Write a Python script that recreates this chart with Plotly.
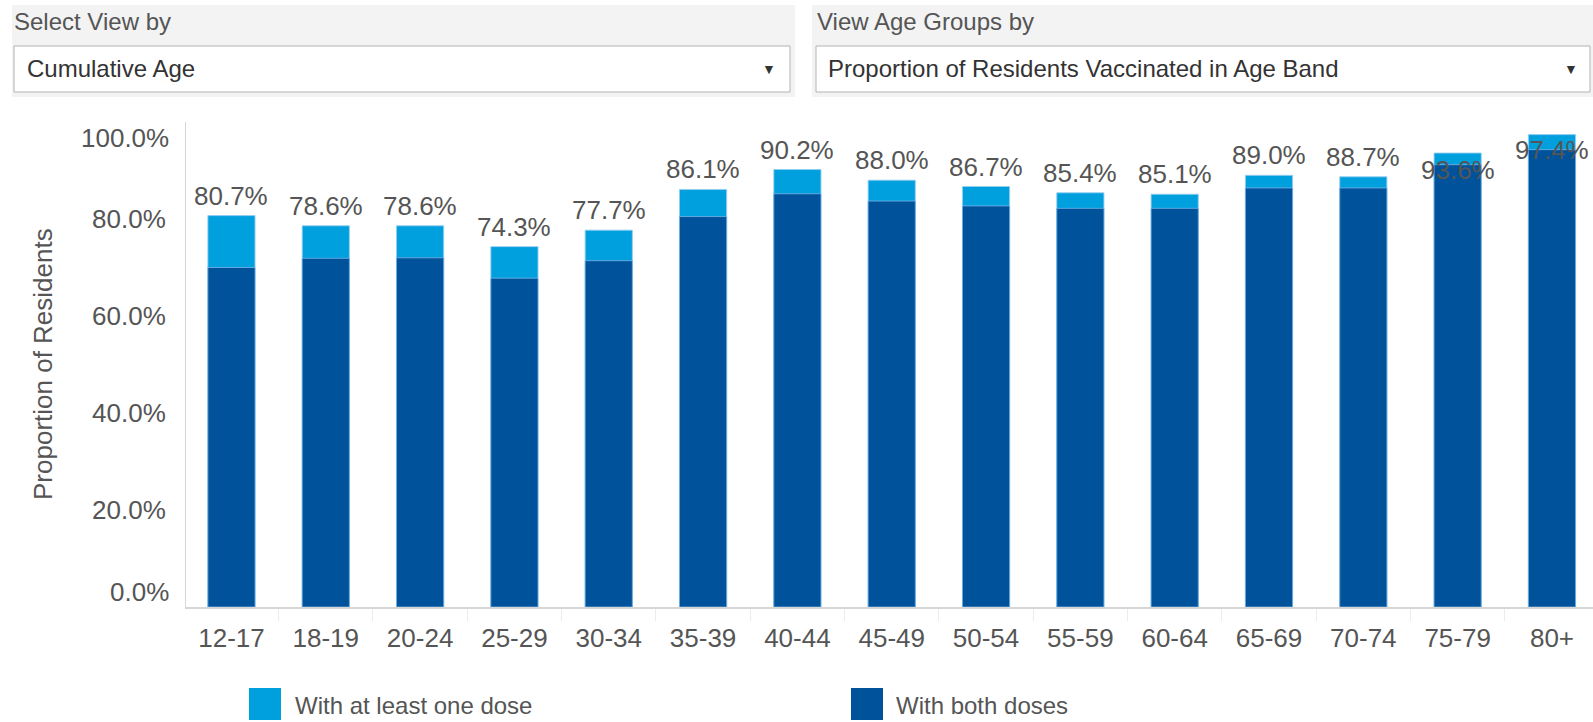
import plotly.graph_objects as go

# ---- data ----
age_bands = ["12-17", "18-19", "20-24", "25-29", "30-34", "35-39", "40-44", "45-49",
             "50-54", "55-59", "60-64", "65-69", "70-74", "75-79", "80+"]
at_least_one_dose = [80.7, 78.6, 78.6, 74.3, 77.7, 86.1, 90.2, 88.0,
                     86.7, 85.4, 85.1, 89.0, 88.7, 93.6, 97.4]
both_doses = [70.0, 71.9, 72.0, 67.8, 71.4, 80.5, 85.2, 83.7,
              82.7, 82.2, 82.2, 86.4, 86.4, 91.2, 94.3]
y_tick_vals = [0, 20, 40, 60, 80, 100]
y_tick_text = ["0.0%", "20.0%", "40.0%", "60.0%", "80.0%", "100.0%"]
legend_names = ["With at least one dose", "With both doses"]
control_titles = ["Select View by", "View Age Groups by"]
control_values = ["Cumulative Age", "Proportion of Residents Vaccinated in Age Band"]

# ---- style ----
LIGHT = "#009FDE"
DARK = "#00539B"
TXT = "#555555"
FONT = "Arial, Liberation Sans, sans-serif"
W, H = 1593, 722
ML, MR, MT, MB = 186, 0, 122, 115
PW, PH = W - ML - MR, H - MT - MB
# pixel shifts of the value labels (label centre relative to bar top)
label_shift = [20] * 13 + [-17, -15]


def px(x):
    return (x - ML) / PW


def py(y):
    return (H - MB - y) / PH


fig = go.Figure()
fig.add_trace(go.Bar(x=age_bands, y=at_least_one_dose, name=legend_names[0],
                     marker=dict(color=LIGHT, line=dict(color="rgba(150,205,240,0.9)", width=1)),
                     width=0.5, showlegend=False, hoverinfo="x+y"))
fig.add_trace(go.Bar(x=age_bands, y=both_doses, name=legend_names[1],
                     marker=dict(color=DARK, line=dict(color="rgba(120,180,230,0.8)", width=1)),
                     width=0.5, showlegend=False, hoverinfo="x+y"))

annotations = []
# value labels
for cat, v, s in zip(age_bands, at_least_one_dose, label_shift):
    annotations.append(dict(x=cat, y=v, xref="x", yref="y", text=f"{v:.1f}%",
                            showarrow=False, yshift=s, yanchor="middle",
                            font=dict(family=FONT, size=26, color=TXT)))
# edge y tick labels (shifted inward like the original)
annotations.append(dict(x=0, xref="paper", y=y_tick_vals[0], yref="y", text=y_tick_text[0],
                        showarrow=False, xanchor="right", xshift=-15, yshift=15,
                        font=dict(family=FONT, size=26, color=TXT)))
annotations.append(dict(x=0, xref="paper", y=y_tick_vals[-1], yref="y", text=y_tick_text[-1],
                        showarrow=False, xanchor="right", xshift=-15, yshift=-16,
                        font=dict(family=FONT, size=26, color=TXT)))
# y title
annotations.append(dict(x=px(43), xref="paper", y=py(364), yref="paper",
                        text="Proportion of Residents", textangle=-90, showarrow=False,
                        xanchor="center", yanchor="middle",
                        font=dict(family=FONT, size=26, color=TXT)))

shapes = []
# legend
for (x0, tx), name, col in zip([(249, 293), (851, 894)], legend_names, [LIGHT, DARK]):
    shapes.append(dict(type="rect", xref="paper", yref="paper",
                       x0=px(x0), x1=px(x0 + 32), y0=py(688), y1=py(720),
                       fillcolor=col, line=dict(width=0)))
    annotations.append(dict(x=px(tx), y=py(705), xref="paper", yref="paper", text=name,
                            showarrow=False, xanchor="left", yanchor="middle",
                            font=dict(family=FONT, size=24, color=TXT)))

# top controls
panels = [(12, 795, 14, 790, 12, 25, 769), (812, 1593, 816, 1590, 815, 826, 1571)]
for (g0, g1, b0, b1, tx, vx, ax), title, val in zip(panels, control_titles, control_values):
    shapes.append(dict(type="rect", xref="paper", yref="paper", layer="below",
                       x0=px(g0), x1=px(g1), y0=py(97), y1=py(5),
                       fillcolor="#f3f3f3", line=dict(width=0)))
    shapes.append(dict(type="rect", xref="paper", yref="paper",
                       x0=px(b0), x1=px(b1), y0=py(92), y1=py(46),
                       fillcolor="white", line=dict(color="#b3b3b3", width=1)))
    annotations.append(dict(x=px(tx), y=py(21), xref="paper", yref="paper", text=title,
                            showarrow=False, xanchor="left", yanchor="middle",
                            font=dict(family=FONT, size=24, color=TXT)))
    annotations.append(dict(x=px(vx), y=py(69), xref="paper", yref="paper", text=val,
                            showarrow=False, xanchor="left", yanchor="middle",
                            font=dict(family=FONT, size=24, color="#333333")))
    annotations.append(dict(x=px(ax), y=py(69), xref="paper", yref="paper", text="▼",
                            showarrow=False, xanchor="center", yanchor="middle",
                            font=dict(family=FONT, size=14, color="#333333")))

fig.update_layout(
    width=W, height=H, autosize=False,
    margin=dict(l=ML, r=MR, t=MT, b=MB, pad=0),
    paper_bgcolor="white", plot_bgcolor="white",
    barmode="overlay", bargap=0.5,
    font=dict(family=FONT, size=26, color=TXT),
    xaxis=dict(type="category", range=[-0.482, 14.435], showgrid=False,
               showline=True, linecolor="#d6d6d6", linewidth=2,
               tickson="boundaries", ticks="outside", ticklen=12, tickwidth=1,
               tickcolor="#ececec", ticklabelstandoff=7,
               tickfont=dict(family=FONT, size=26, color=TXT),
               fixedrange=True),
    yaxis=dict(range=[0, 100], showgrid=False, zeroline=False,
               showline=True, linecolor="#d6d6d6", linewidth=1,
               tickvals=y_tick_vals[1:-1], ticktext=y_tick_text[1:-1],
               ticks="", ticklabelstandoff=14,
               tickfont=dict(family=FONT, size=26, color=TXT), fixedrange=True),
    annotations=annotations, shapes=shapes,
)

fig.write_html("out.html", config={"displayModeBar": False},
               post_script="document.body.style.margin='0';document.body.style.overflow='hidden';")
